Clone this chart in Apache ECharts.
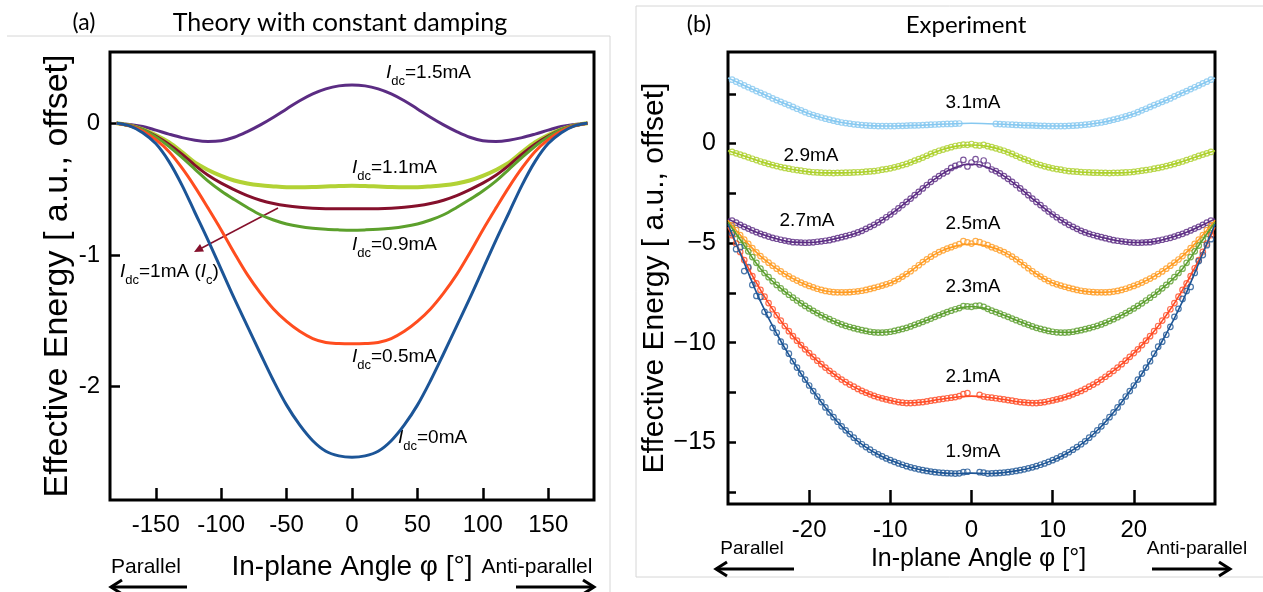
<!DOCTYPE html>
<html><head><meta charset="utf-8">
<script src="https://cdn.jsdelivr.net/npm/echarts@6/dist/echarts.min.js"></script>
<style>html,body{margin:0;padding:0;background:#fff}#c{width:1263px;height:592px}</style>
</head><body><div id="c"></div>
<script>
// ---------- (a) Theory ----------
const phiTheory = [-180,-170,-160,-150,-140,-130,-120,-110,-100,-90,-80,-70,-60,-50,-40,-30,-20,-10,0,10,20,30,40,50,60,70,80,90,100,110,120,130,140,150,160,170,180];
const theoryLabels = ['1.5mA','1.1mA','1mA','0.9mA','0.5mA','0mA'];
const theory15 = [0,-0.010,-0.025,-0.053,-0.083,-0.110,-0.130,-0.139,-0.133,-0.107,-0.064,-0.013,0.045,0.108,0.170,0.222,0.260,0.283,0.290,0.283,0.260,0.222,0.170,0.108,0.045,-0.013,-0.064,-0.107,-0.133,-0.139,-0.130,-0.110,-0.083,-0.053,-0.025,-0.010,0];
const theory11 = [0,-0.017,-0.048,-0.090,-0.145,-0.220,-0.300,-0.355,-0.400,-0.435,-0.458,-0.472,-0.480,-0.486,-0.487,-0.485,-0.481,-0.477,-0.475,-0.477,-0.481,-0.485,-0.487,-0.486,-0.480,-0.472,-0.458,-0.435,-0.400,-0.355,-0.300,-0.220,-0.145,-0.090,-0.048,-0.017,0];
const theory10 = [0,-0.018,-0.050,-0.098,-0.160,-0.235,-0.320,-0.395,-0.455,-0.505,-0.550,-0.585,-0.610,-0.627,-0.638,-0.645,-0.649,-0.650,-0.650,-0.650,-0.649,-0.645,-0.638,-0.627,-0.610,-0.585,-0.550,-0.505,-0.455,-0.395,-0.320,-0.235,-0.160,-0.098,-0.050,-0.018,0];
const theory09 = [0,-0.018,-0.050,-0.105,-0.175,-0.260,-0.350,-0.440,-0.515,-0.580,-0.640,-0.695,-0.735,-0.765,-0.785,-0.798,-0.806,-0.810,-0.812,-0.810,-0.806,-0.798,-0.785,-0.765,-0.735,-0.695,-0.640,-0.580,-0.515,-0.440,-0.350,-0.260,-0.175,-0.105,-0.050,-0.018,0];
const theory05 = [0,-0.020,-0.060,-0.125,-0.215,-0.340,-0.485,-0.645,-0.810,-0.985,-1.150,-1.290,-1.410,-1.505,-1.580,-1.635,-1.665,-1.673,-1.675,-1.673,-1.665,-1.635,-1.580,-1.505,-1.410,-1.290,-1.150,-0.985,-0.810,-0.645,-0.485,-0.340,-0.215,-0.125,-0.060,-0.020,0];
const theory00 = [0,-0.020,-0.072,-0.155,-0.290,-0.470,-0.680,-0.890,-1.110,-1.330,-1.540,-1.750,-1.955,-2.140,-2.290,-2.410,-2.490,-2.525,-2.535,-2.525,-2.490,-2.410,-2.290,-2.140,-1.955,-1.750,-1.540,-1.330,-1.110,-0.890,-0.680,-0.470,-0.290,-0.155,-0.072,-0.020,0];
const leftXTicks = [-150,-100,-50,0,50,100,150];
const leftYTicks = [-2,-1,0];

// ---------- (b) Experiment ----------
const expLabels = ['3.1mA','2.9mA','2.7mA','2.5mA','2.3mA','2.1mA','1.9mA'];
const phiFit = [-30,-28,-26,-24,-22,-20,-18,-16,-14,-12,-10,-8,-6,-4,-2,0,2,4,6,8,10,12,14,16,18,20,22,24,26,28,30];
const fit31 = [3.30,2.92,2.55,2.18,1.84,1.50,1.25,1.06,0.95,0.89,0.88,0.90,0.93,0.97,1.00,1.02,1.00,0.97,0.93,0.90,0.88,0.89,0.95,1.06,1.25,1.50,1.84,2.18,2.55,2.92,3.30];
const fit29 = [-0.36,-0.62,-0.90,-1.13,-1.30,-1.42,-1.47,-1.47,-1.44,-1.38,-1.24,-1.02,-0.70,-0.36,-0.14,-0.07,-0.14,-0.36,-0.70,-1.02,-1.24,-1.38,-1.44,-1.47,-1.47,-1.42,-1.30,-1.13,-0.90,-0.62,-0.36];
const fit27 = [-3.78,-4.18,-4.53,-4.78,-4.95,-4.97,-4.88,-4.70,-4.46,-4.08,-3.56,-2.93,-2.25,-1.63,-1.20,-1.04,-1.20,-1.63,-2.25,-2.93,-3.56,-4.08,-4.46,-4.70,-4.88,-4.97,-4.95,-4.78,-4.53,-4.18,-3.78];
const fit25 = [-3.85,-4.82,-5.65,-6.28,-6.78,-7.15,-7.40,-7.47,-7.42,-7.25,-7.00,-6.55,-5.95,-5.45,-5.15,-5.04,-5.15,-5.45,-5.95,-6.55,-7.00,-7.25,-7.42,-7.47,-7.40,-7.15,-6.78,-6.28,-5.65,-4.82,-3.85];
const fit23 = [-3.95,-5.12,-6.28,-7.10,-7.74,-8.28,-8.72,-9.08,-9.32,-9.48,-9.45,-9.25,-8.95,-8.62,-8.32,-8.18,-8.32,-8.62,-8.95,-9.25,-9.45,-9.48,-9.32,-9.08,-8.72,-8.28,-7.74,-7.10,-6.28,-5.12,-3.95];
const fit21 = [-4.20,-5.85,-7.35,-8.62,-9.67,-10.52,-11.25,-11.85,-12.32,-12.67,-12.90,-13.03,-12.98,-12.85,-12.74,-12.68,-12.74,-12.85,-12.98,-13.03,-12.90,-12.67,-12.32,-11.85,-11.25,-10.52,-9.67,-8.62,-7.35,-5.85,-4.20];
const fit19 = [-4.05,-6.00,-7.92,-9.55,-10.93,-12.15,-13.25,-14.20,-14.95,-15.50,-15.90,-16.20,-16.40,-16.52,-16.57,-16.55,-16.57,-16.52,-16.40,-16.20,-15.90,-15.50,-14.95,-14.20,-13.25,-12.15,-10.93,-9.55,-7.92,-6.00,-4.05];

const phiMeas = [-29.5,-29,-28.5,-28,-27.5,-27,-26.5,-26,-25.5,-25,-24.5,-24,-23.5,-23,-22.5,-22,-21.5,-21,-20.5,-20,-19.5,-19,-18.5,-18,-17.5,-17,-16.5,-16,-15.5,-15,-14.5,-14,-13.5,-13,-12.5,-12,-11.5,-11,-10.5,-10,-9.5,-9,-8.5,-8,-7.5,-7,-6.5,-6,-5.5,-5,-4.5,-4,-3.5,-3,-2.5,-2,-1.5,-1,-0.5,0,0.5,1,1.5,2,2.5,3,3.5,4,4.5,5,5.5,6,6.5,7,7.5,8,8.5,9,9.5,10,10.5,11,11.5,12,12.5,13,13.5,14,14.5,15,15.5,16,16.5,17,17.5,18,18.5,19,19.5,20,20.5,21,21.5,22,22.5,23,23.5,24,24.5,25,25.5,26,26.5,27,27.5,28,28.5,29,29.5];
const meas31 = [3.21,3.11,3.02,2.92,2.83,2.74,2.64,2.55,2.46,2.37,2.27,2.18,2.10,2.01,1.93,1.84,1.75,1.67,1.58,1.50,1.43,1.37,1.31,1.25,1.20,1.15,1.10,1.06,1.03,1.00,0.97,0.95,0.93,0.91,0.90,0.89,0.88,0.88,0.88,0.88,0.88,0.89,0.89,0.90,0.91,0.91,0.92,0.93,0.94,0.95,0.96,0.97,0.98,0.99,0.99,1.00,1.01,null,null,null,
 null,null,null,null,null,0.99,0.98,0.97,0.96,0.95,0.94,0.93,0.92,0.91,0.91,0.90,0.89,0.89,0.88,0.88,0.88,0.88,0.88,0.89,0.90,0.91,0.93,0.95,0.97,1.00,1.03,1.06,1.10,1.15,1.20,1.25,1.31,1.37,1.43,1.50,1.58,1.67,1.75,1.84,1.93,2.01,2.10,2.18,2.27,2.37,2.46,2.55,2.64,2.74,2.83,2.92,3.02,3.11,3.21];
const meas29 = [-0.42,-0.49,-0.55,-0.62,-0.69,-0.76,-0.83,-0.90,-0.96,-1.02,-1.08,-1.13,-1.18,-1.22,-1.26,-1.30,-1.33,-1.36,-1.39,-1.42,-1.44,-1.45,-1.46,-1.47,-1.47,-1.48,-1.47,-1.47,-1.46,-1.46,-1.45,-1.44,-1.43,-1.41,-1.40,-1.38,-1.35,-1.31,-1.28,-1.24,-1.19,-1.14,-1.08,-1.02,-0.94,-0.86,-0.78,-0.70,-0.61,-0.52,-0.44,-0.36,-0.30,-0.24,-0.18,-0.12,-0.09,-0.05,-0.06,-0.02,
 -0.08,-0.10,-0.06,-0.13,-0.18,-0.24,-0.30,-0.36,-0.44,-0.52,-0.61,-0.70,-0.78,-0.86,-0.94,-1.02,-1.08,-1.14,-1.19,-1.24,-1.28,-1.31,-1.35,-1.38,-1.40,-1.41,-1.43,-1.44,-1.45,-1.46,-1.46,-1.47,-1.47,-1.48,-1.47,-1.47,-1.46,-1.45,-1.44,-1.42,-1.39,-1.36,-1.33,-1.30,-1.26,-1.22,-1.18,-1.13,-1.08,-1.02,-0.96,-0.90,-0.83,-0.76,-0.69,-0.62,-0.55,-0.49,-0.42];
const meas27 = [-3.87,-3.97,-4.08,-4.18,-4.27,-4.36,-4.45,-4.53,-4.60,-4.67,-4.73,-4.78,-4.83,-4.87,-4.91,-4.95,-4.96,-4.97,-4.98,-4.97,-4.96,-4.93,-4.91,-4.88,-4.85,-4.80,-4.75,-4.70,-4.65,-4.59,-4.53,-4.46,-4.38,-4.28,-4.18,-4.08,-3.96,-3.84,-3.70,-3.56,-3.41,-3.25,-3.09,-2.93,-2.76,-2.59,-2.42,-2.25,-2.08,-1.92,-1.77,-1.63,-1.50,-1.40,-1.22,-1.12,-1.05,-0.82,-1.15,-0.95,
 -0.78,-1.05,-0.85,-1.10,-1.30,-1.38,-1.50,-1.63,-1.77,-1.92,-2.08,-2.25,-2.42,-2.59,-2.76,-2.93,-3.09,-3.25,-3.41,-3.56,-3.70,-3.84,-3.96,-4.08,-4.18,-4.28,-4.38,-4.46,-4.53,-4.59,-4.65,-4.70,-4.75,-4.80,-4.85,-4.88,-4.91,-4.93,-4.96,-4.97,-4.98,-4.97,-4.96,-4.95,-4.91,-4.87,-4.83,-4.78,-4.73,-4.67,-4.60,-4.53,-4.45,-4.36,-4.27,-4.18,-4.08,-3.97,-3.87];
const meas25 = [-4.10,-4.35,-4.60,-4.82,-5.04,-5.25,-5.46,-5.65,-5.82,-5.98,-6.13,-6.28,-6.42,-6.55,-6.67,-6.78,-6.88,-6.98,-7.07,-7.15,-7.22,-7.29,-7.35,-7.40,-7.43,-7.46,-7.47,-7.47,-7.47,-7.46,-7.44,-7.42,-7.39,-7.35,-7.30,-7.25,-7.19,-7.13,-7.07,-7.00,-6.90,-6.80,-6.68,-6.55,-6.41,-6.26,-6.11,-5.95,-5.81,-5.68,-5.56,-5.45,-5.36,-5.27,-5.20,-5.12,-5.05,-4.90,-4.96,-5.02,
 -4.90,-4.95,-5.03,-5.10,-5.20,-5.27,-5.36,-5.45,-5.56,-5.68,-5.81,-5.95,-6.11,-6.26,-6.41,-6.55,-6.68,-6.80,-6.90,-7.00,-7.07,-7.13,-7.19,-7.25,-7.30,-7.35,-7.39,-7.42,-7.44,-7.46,-7.47,-7.47,-7.47,-7.46,-7.43,-7.40,-7.35,-7.29,-7.22,-7.15,-7.07,-6.98,-6.88,-6.78,-6.67,-6.55,-6.42,-6.28,-6.13,-5.98,-5.82,-5.65,-5.46,-5.25,-5.04,-4.82,-4.60,-4.35,-4.10];
const meas23 = [-4.25,-4.54,-4.83,-5.12,-5.41,-5.70,-5.99,-6.28,-6.50,-6.71,-6.91,-7.10,-7.27,-7.43,-7.59,-7.74,-7.88,-8.02,-8.15,-8.28,-8.40,-8.51,-8.62,-8.72,-8.82,-8.91,-9.00,-9.08,-9.15,-9.21,-9.27,-9.32,-9.37,-9.41,-9.45,-9.48,-9.49,-9.49,-9.48,-9.45,-9.41,-9.36,-9.31,-9.25,-9.18,-9.10,-9.03,-8.95,-8.87,-8.79,-8.70,-8.62,-8.54,-8.46,-8.39,-8.32,-8.26,-8.16,-8.18,-8.20,
 -8.15,-8.14,-8.20,-8.30,-8.39,-8.46,-8.54,-8.62,-8.70,-8.79,-8.87,-8.95,-9.03,-9.10,-9.18,-9.25,-9.31,-9.36,-9.41,-9.45,-9.48,-9.49,-9.49,-9.48,-9.45,-9.41,-9.37,-9.32,-9.27,-9.21,-9.15,-9.08,-9.00,-8.91,-8.82,-8.72,-8.62,-8.51,-8.40,-8.28,-8.15,-8.02,-7.88,-7.74,-7.59,-7.43,-7.27,-7.10,-6.91,-6.71,-6.50,-6.28,-5.99,-5.70,-5.41,-5.12,-4.83,-4.54,-4.25];
const meas21 = [-4.60,-5.02,-5.44,-5.85,-6.26,-6.66,-7.02,-7.35,-7.69,-8.01,-8.32,-8.62,-8.89,-9.16,-9.42,-9.67,-9.90,-10.12,-10.33,-10.52,-10.71,-10.90,-11.08,-11.25,-11.41,-11.56,-11.71,-11.85,-11.98,-12.10,-12.21,-12.32,-12.42,-12.51,-12.59,-12.67,-12.74,-12.80,-12.85,-12.90,-12.94,-12.98,-13.01,-13.03,-13.03,-13.02,-13.00,-12.98,-12.95,-12.91,-12.88,-12.85,-12.82,-12.79,-12.76,-12.73,-12.68,-12.58,-12.53,null,
 null,-12.62,-12.70,-12.74,-12.76,-12.79,-12.82,-12.85,-12.88,-12.91,-12.95,-12.98,-13.00,-13.02,-13.03,-13.03,-13.01,-12.98,-12.94,-12.90,-12.85,-12.80,-12.74,-12.67,-12.59,-12.51,-12.42,-12.32,-12.21,-12.10,-11.98,-11.85,-11.71,-11.56,-11.41,-11.25,-11.08,-10.90,-10.71,-10.52,-10.33,-10.12,-9.90,-9.67,-9.42,-9.16,-8.89,-8.62,-8.32,-8.01,-7.69,-7.35,-7.02,-6.66,-6.26,-5.85,-5.44,-5.02,-4.60];
const meas19 = [-4.50,-5.30,-5.20,-6.40,-6.20,-7.10,-7.65,-7.70,-8.45,-8.60,-9.25,-9.50,-9.95,-10.20,-10.55,-10.93,-11.25,-11.55,-11.85,-12.15,-12.43,-12.70,-12.98,-13.25,-13.50,-13.74,-13.97,-14.20,-14.40,-14.59,-14.77,-14.95,-15.10,-15.24,-15.37,-15.50,-15.61,-15.71,-15.81,-15.90,-15.98,-16.06,-16.13,-16.20,-16.26,-16.31,-16.36,-16.40,-16.44,-16.47,-16.50,-16.52,-16.54,-16.55,-16.56,-16.57,-16.56,-16.50,-16.48,null,
 null,-16.50,-16.52,-16.57,-16.56,-16.55,-16.54,-16.52,-16.50,-16.47,-16.44,-16.40,-16.36,-16.31,-16.26,-16.20,-16.13,-16.06,-15.98,-15.90,-15.81,-15.71,-15.61,-15.50,-15.37,-15.24,-15.10,-14.95,-14.77,-14.59,-14.40,-14.20,-13.97,-13.74,-13.50,-13.25,-12.98,-12.70,-12.43,-12.15,-11.85,-11.55,-11.25,-10.93,-10.55,-10.20,-9.95,-9.60,-9.20,-8.70,-8.30,-7.80,-7.40,-7.20,-6.50,-5.90,-5.60,-5.10,-4.80];
const rightXTicks = [-20,-10,0,10,20];
const rightYLabels = [-15,-10,-5,0];
const rightYTicks = [-17.5,-15,-12.5,-10,-7.5,-5,-2.5,0,2.5];

// ---------- styles ----------
const NARROW = "'Liberation Sans Narrow','Liberation Sans',Arial,sans-serif";
const SANS = "'Liberation Sans',Arial,sans-serif";
const TITLE = "Lato,'Open Sans',sans-serif";
const theoryColors = ['#5b2c83','#b2d235','#85102c','#5ca02c','#ff4d1f','#1c5597'];
const expColors = ['#86c8f0','#acd02a','#5b2c83','#ff9b21','#5b9e2d','#ff4a23','#1d5595'];

function pairs(xs, ys){ const out=[]; for(let i=0;i<xs.length;i++){ if(ys[i]!==null && ys[i]!==undefined) out.push([xs[i], ys[i]]);} return out; }

const theorySets = [theory15, theory11, theory10, theory09, theory05, theory00];
const fitSets = [fit31, fit29, fit27, fit25, fit23, fit21, fit19];
const measSets = [meas31, meas29, meas27, meas25, meas23, meas21, meas19];

const series = [];
theorySets.forEach((ys,k)=>{
  series.push({type:'line', name:theoryLabels[k], xAxisIndex:0, yAxisIndex:0, data:pairs(phiTheory, ys), smooth:0.35, showSymbol:false,
    lineStyle:{color:theoryColors[k], width:(k===1?4:3)}, z:3, silent:true});
});
measSets.forEach((ys,k)=>{
  series.push({type:'scatter', name:expLabels[k]+' data', xAxisIndex:1, yAxisIndex:1, data:pairs(phiMeas, ys), symbol:'circle', symbolSize:5.5,
    itemStyle:{color:'rgba(255,255,255,0.35)', borderColor:expColors[k], borderWidth:1.2}, z:2, silent:true});
  series.push({type:'line', name:expLabels[k]+' fit', xAxisIndex:1, yAxisIndex:1, data:pairs(phiFit, fitSets[k]), smooth:0.5, showSymbol:false,
    lineStyle:{color:expColors[k], width:1.6}, z:3, silent:true});
});

const tickStyle = {color:'#000', width:2.5};
const rich = {
  i:{fontFamily:NARROW, fontStyle:'italic', fontSize:19, lineHeight:20, verticalAlign:'top', color:'#000'},
  s:{fontFamily:NARROW, fontSize:13, lineHeight:13, padding:[12,0,0,0], verticalAlign:'top', color:'#000'},
  n:{fontFamily:NARROW, fontSize:19, lineHeight:20, verticalAlign:'top', color:'#000'}
};
function idcLabel(x, y, val){
  return {type:'text', x:x, y:y, style:{text:'{i|I}{s|dc}{n|='+val+'}', rich:rich, verticalAlign:'top'}};
}
function expLabel(x, y, t){
  return {type:'text', x:x, y:y, style:{text:t, font:'19px '+NARROW, fill:'#000', align:'center', verticalAlign:'middle'}};
}
function arrow(x1, x2, y, dir){
  const tip = dir<0 ? x1 : x2;
  return [
    {type:'line', shape:{x1:x1, y1:y, x2:x2, y2:y}, style:{stroke:'#000', lineWidth:3}},
    {type:'polyline', shape:{points:[[tip-dir*11, y-7],[tip, y],[tip-dir*11, y+7]]}, style:{stroke:'#000', lineWidth:3, fill:null}}
  ];
}

const graphic = [
  {type:'polyline', shape:{points:[[7,36],[610,36],[610,592]]}, style:{stroke:'#d6d6d6', lineWidth:1, fill:null}},
  {type:'polyline', shape:{points:[[1263,6],[636,6],[636,577],[1263,577]]}, style:{stroke:'#d6d6d6', lineWidth:1, fill:null}},
  {type:'text', x:84, y:23, style:{text:'(a)', font:'23px '+TITLE, fill:'#000', align:'center', verticalAlign:'middle'}},
  {type:'text', x:340, y:23, style:{text:'Theory with constant damping', font:'25px '+TITLE, fill:'#000', align:'center', verticalAlign:'middle'}},
  {type:'text', x:699, y:25, style:{text:'(b)', font:'23px '+TITLE, fill:'#000', align:'center', verticalAlign:'middle'}},
  {type:'text', x:966, y:25, style:{text:'Experiment', font:'24px '+TITLE, fill:'#000', align:'center', verticalAlign:'middle'}},
  idcLabel(386, 63, '1.5mA'),
  idcLabel(352, 158, '1.1mA'),
  idcLabel(352, 235, '0.9mA'),
  {type:'text', x:120, y:262, style:{text:'{i|I}{s|dc}{n|=1mA (}{i|I}{s|c}{n|)}', rich:rich, verticalAlign:'top'}},
  idcLabel(352, 347, '0.5mA'),
  idcLabel(398, 428, '0mA'),
  {type:'line', shape:{x1:278, y1:208, x2:198, y2:250}, style:{stroke:'#85102c', lineWidth:1.5}},
  {type:'polygon', shape:{points:[[194,252],[204,251.5],[200,244]]}, style:{fill:'#85102c'}},
  expLabel(973, 103, '3.1mA'), expLabel(811, 156, '2.9mA'), expLabel(807, 221, '2.7mA'),
  expLabel(973, 224, '2.5mA'), expLabel(973, 287, '2.3mA'), expLabel(973, 377, '2.1mA'), expLabel(973, 452, '1.9mA'),
  {type:'text', x:146, y:567, style:{text:'Parallel', font:'21px '+NARROW, fill:'#000', align:'center', verticalAlign:'middle'}},
  {type:'text', x:537, y:567, style:{text:'Anti-parallel', font:'21px '+NARROW, fill:'#000', align:'center', verticalAlign:'middle'}},
  ...arrow(111, 187, 587, -1), ...arrow(516, 594, 587, 1),
  {type:'text', x:752, y:549, style:{text:'Parallel', font:'19px '+NARROW, fill:'#000', align:'center', verticalAlign:'middle'}},
  {type:'text', x:1197, y:549, style:{text:'Anti-parallel', font:'19px '+NARROW, fill:'#000', align:'center', verticalAlign:'middle'}},
  ...arrow(716, 794, 569, -1), ...arrow(1152, 1230, 569, 1)
];

const chart = echarts.init(document.getElementById('c'), null, {renderer:'canvas'});
chart.setOption({
  backgroundColor:'#fff',
  animation:false,
  grid:[
    {left:110, top:52, width:484, height:448, show:true, borderColor:'#000', borderWidth:3, backgroundColor:'transparent'},
    {left:728, top:52, width:487, height:452, show:true, borderColor:'#000', borderWidth:3, backgroundColor:'transparent'}
  ],
  xAxis:[
    {gridIndex:0, type:'value', min:-185, max:185,
     axisLine:{show:false, onZero:false}, splitLine:{show:false},
     axisTick:{show:true, inside:true, length:12, lineStyle:tickStyle, customValues:leftXTicks},
     axisLabel:{customValues:leftXTicks, fontSize:24, fontFamily:NARROW, color:'#000', margin:13},
     name:'In-plane Angle φ [°]', nameLocation:'middle', nameGap:53,
     nameTextStyle:{fontSize:28, fontFamily:NARROW, color:'#000'}},
    {gridIndex:1, type:'value', min:-30, max:30,
     axisLine:{show:false, onZero:false}, splitLine:{show:false},
     axisTick:{show:true, inside:true, length:14, lineStyle:tickStyle, customValues:rightXTicks},
     axisLabel:{customValues:rightXTicks, fontSize:24, fontFamily:NARROW, color:'#000', margin:14},
     name:'In-plane Angle φ [°]', nameLocation:'middle', nameGap:42,
     nameTextStyle:{fontSize:25, fontFamily:NARROW, color:'#000', padding:[0,0,0,14]}}
  ],
  yAxis:[
    {gridIndex:0, type:'value', min:-2.86, max:0.54,
     axisLine:{show:false, onZero:false}, splitLine:{show:false},
     axisTick:{show:true, inside:true, length:10, lineStyle:tickStyle, customValues:leftYTicks},
     axisLabel:{customValues:leftYTicks, fontSize:24, fontFamily:NARROW, color:'#000', margin:10},
     name:'Effective Energy [ a.u., offset]', nameLocation:'middle', nameGap:31, nameRotate:90,
     nameTextStyle:{fontSize:34, fontFamily:SANS, color:'#000'}},
    {gridIndex:1, type:'value', min:-18.1, max:4.6,
     axisLine:{show:false, onZero:false}, splitLine:{show:false},
     axisTick:{show:true, inside:true, length:8, lineStyle:tickStyle, customValues:rightYTicks},
     axisLabel:{customValues:rightYLabels, fontSize:25, fontFamily:NARROW, color:'#000', margin:12,
       formatter:(v)=>String(v).replace('-', '\u2212')},
     name:'Effective Energy [ a.u., offset]', nameLocation:'middle', nameGap:52, nameRotate:90,
     nameTextStyle:{fontSize:30, fontFamily:SANS, color:'#000'}}
  ],
  series:series,
  graphic:graphic
});
</script>
</body></html>
